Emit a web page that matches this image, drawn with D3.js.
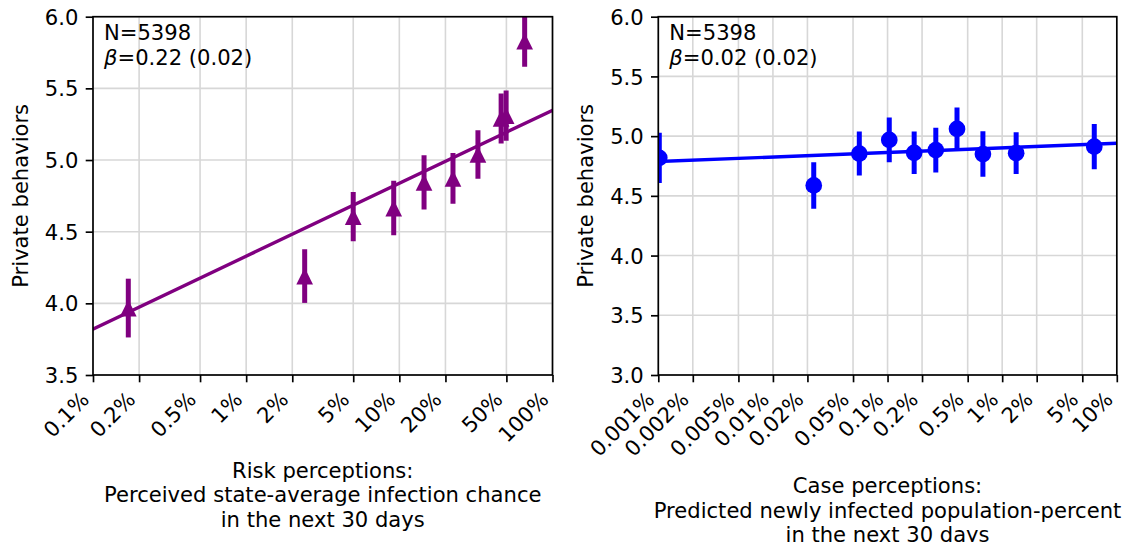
<!DOCTYPE html>
<html><head><meta charset="utf-8">
<script src="https://cdn.jsdelivr.net/npm/d3@7"></script>
<style>
body{margin:0;background:#fff}
svg{display:block}
text{font-family:"DejaVu Sans",sans-serif;fill:#000}
</style>
</head><body>
<svg id="c" width="1125" height="542"></svg>
<script>
// ---------- data (percent values on x) ----------
const riskX   = [0.170, 2.41, 5.0, 9.19, 14.5, 22.4, 32.6, 46.2, 49.8, 65.8];
const riskY   = [3.967, 4.19, 4.605, 4.665, 4.844, 4.872, 5.039, 5.29, 5.31, 5.83];
const riskErr = [0.205, 0.187, 0.171, 0.19, 0.189, 0.177, 0.169, 0.175, 0.175, 0.18];
const riskFitX = [0.1, 100];
const riskFitY = [3.82, 5.347];
const riskTicks = [0.1, 0.2, 0.5, 1, 2, 5, 10, 20, 50, 100];
const riskTickLabels = ["0.1%","0.2%","0.5%","1%","2%","5%","10%","20%","50%","100%"];
const riskYTicks = [3.5, 4.0, 4.5, 5.0, 5.5, 6.0];

const caseX   = [0.00102, 0.0227, 0.0567, 0.1035, 0.1707, 0.2636, 0.4036, 0.679, 1.324, 6.36];
const caseY   = [4.818, 4.587, 4.854, 4.968, 4.86, 4.883, 5.06, 4.85, 4.857, 4.912];
const caseErr = [0.211, 0.195, 0.184, 0.187, 0.178, 0.188, 0.18, 0.19, 0.175, 0.19];
const caseFitX = [0.001, 10];
const caseFitY = [4.787, 4.94];
const caseTicks = [0.001, 0.002, 0.005, 0.01, 0.02, 0.05, 0.1, 0.2, 0.5, 1, 2, 5, 10];
const caseTickLabels = ["0.001%","0.002%","0.005%","0.01%","0.02%","0.05%","0.1%","0.2%","0.5%","1%","2%","5%","10%"];
const caseYTicks = [3.0, 3.5, 4.0, 4.5, 5.0, 5.5, 6.0];

const annN = "N=5398";
const riskBeta = "=0.22 (0.02)";
const caseBeta = "=0.02 (0.02)";
const yLabel = "Private behaviors";
const riskXLabel = ["Risk perceptions:", "Perceived state-average infection chance", "in the next 30 days"];
const caseXLabel = ["Case perceptions:", "Predicted newly infected population-percent", "in the next 30 days"];

// ---------- drawing ----------
const FS = 21.1;
const svg = d3.select("#c");
const defs = svg.append("defs");

function panel(o){
  const g = svg.append("g");
  const x = d3.scaleLog().domain(o.xDomain).range([o.x0, o.x1]);
  const y = d3.scaleLinear().domain(o.yDomain).range([o.y1, o.y0]);

  // grid
  g.append("g").selectAll("line").data(o.xTicks).join("line")
    .attr("x1", d=>x(d)).attr("x2", d=>x(d)).attr("y1", o.y0).attr("y2", o.y1)
    .attr("stroke", "#d7d7d7").attr("stroke-width", 1.6);
  g.append("g").selectAll("line").data(o.yTicks).join("line")
    .attr("y1", d=>y(d)).attr("y2", d=>y(d)).attr("x1", o.x0).attr("x2", o.x1)
    .attr("stroke", "#d7d7d7").attr("stroke-width", 1.6);

  // clip
  defs.append("clipPath").attr("id", o.id).append("rect")
    .attr("x", o.x0).attr("y", o.y0).attr("width", o.x1 - o.x0).attr("height", o.y1 - o.y0);
  const dg = g.append("g").attr("clip-path", `url(#${o.id})`);

  // fit line
  dg.append("line")
    .attr("x1", x(o.fitX[0])).attr("x2", x(o.fitX[1]))
    .attr("y1", y(o.fitY[0])).attr("y2", y(o.fitY[1]))
    .attr("stroke", o.color).attr("stroke-width", 3.4).attr("stroke-linecap", "square");

  const idx = d3.range(o.xs.length);
  // error bars
  dg.append("g").selectAll("line").data(idx).join("line")
    .attr("x1", i=>x(o.xs[i])).attr("x2", i=>x(o.xs[i]))
    .attr("y1", i=>y(o.ys[i] - o.err[i])).attr("y2", i=>y(o.ys[i] + o.err[i]))
    .attr("stroke", o.color).attr("stroke-width", 5);
  // markers
  const s = 16.7;
  if (o.marker === "triangle") {
    dg.append("g").selectAll("path").data(idx).join("path")
      .attr("transform", i=>`translate(${x(o.xs[i])},${y(o.ys[i])})`)
      .attr("d", `M0,${-s/2}L${s/2},${s/2}L${-s/2},${s/2}Z`)
      .attr("fill", o.color);
  } else {
    dg.append("g").selectAll("circle").data(idx).join("circle")
      .attr("cx", i=>x(o.xs[i])).attr("cy", i=>y(o.ys[i])).attr("r", s/2)
      .attr("fill", o.color);
  }

  // spines
  g.append("rect").attr("x", o.x0).attr("y", o.y0)
    .attr("width", o.x1 - o.x0).attr("height", o.y1 - o.y0)
    .attr("fill", "none").attr("stroke", "#000").attr("stroke-width", 1.67);

  // x axis
  const ax = g.append("g").attr("transform", `translate(0,${o.y1})`)
    .call(d3.axisBottom(x).tickValues(o.xTicks).tickFormat((d,i)=>o.xTickLabels[i])
      .tickSize(7.3).tickSizeOuter(0).tickPadding(0));
  ax.select(".domain").remove();
  ax.selectAll(".tick line").attr("stroke", "#000").attr("stroke-width", 1.67);
  ax.selectAll(".tick text")
    .attr("font-size", FS).attr("font-family", "DejaVu Sans")
    .attr("text-anchor", "end").attr("x", 0).attr("y", 0).attr("dy", null)
    .attr("transform", `translate(${-0.707*4.3},${14.6 + 0.707*15.8}) rotate(-45)`)
    .attr("fill", "#000");

  // y axis
  const ay = g.append("g").attr("transform", `translate(${o.x0},0)`)
    .call(d3.axisLeft(y).tickValues(o.yTicks).tickFormat(d3.format(".1f"))
      .tickSize(7.3).tickSizeOuter(0).tickPadding(7.3));
  ay.select(".domain").remove();
  ay.selectAll(".tick line").attr("stroke", "#000").attr("stroke-width", 1.67);
  ay.selectAll(".tick text").attr("font-size", FS).attr("font-family", "DejaVu Sans")
    .attr("dy", "0.36em").attr("fill", "#000");

  // y label
  g.append("text").attr("transform", `translate(${o.x0 - 65},${(o.y0 + o.y1)/2}) rotate(-90)`)
    .attr("text-anchor", "middle").attr("font-size", FS).text(yLabel);

  // x label
  const cx = (o.x0 + o.x1) / 2;
  g.append("g").selectAll("text").data(o.xLabel).join("text")
    .attr("x", cx).attr("y", (d,i)=>o.xLabelY + i*24.5)
    .attr("text-anchor", "middle").attr("font-size", FS).text(d=>d);

  // annotation
  g.append("text").attr("x", o.x0 + 11).attr("y", 40).attr("font-size", FS).text(annN);
  const t2 = g.append("text").attr("x", o.x0 + 11).attr("y", 64.6).attr("font-size", FS);
  t2.append("tspan").attr("font-style", "italic").text("β");
  t2.append("tspan").text(o.beta);
}

panel({
  id: "clipL", x0: 93, x1: 552.5, y0: 16.7, y1: 375,
  xDomain: [0.1, 100], yDomain: [3.5, 6.0],
  xTicks: riskTicks, xTickLabels: riskTickLabels, yTicks: riskYTicks,
  xs: riskX, ys: riskY, err: riskErr, fitX: riskFitX, fitY: riskFitY,
  color: "purple", marker: "triangle", beta: riskBeta,
  xLabel: riskXLabel, xLabelY: 477.7
});
panel({
  id: "clipR", x0: 658.3, x1: 1116.8, y0: 16.7, y1: 375,
  xDomain: [0.001, 10], yDomain: [3.0, 6.0],
  xTicks: caseTicks, xTickLabels: caseTickLabels, yTicks: caseYTicks,
  xs: caseX, ys: caseY, err: caseErr, fitX: caseFitX, fitY: caseFitY,
  color: "blue", marker: "circle", beta: caseBeta,
  xLabel: caseXLabel, xLabelY: 493.2
});
</script>
</body></html>
